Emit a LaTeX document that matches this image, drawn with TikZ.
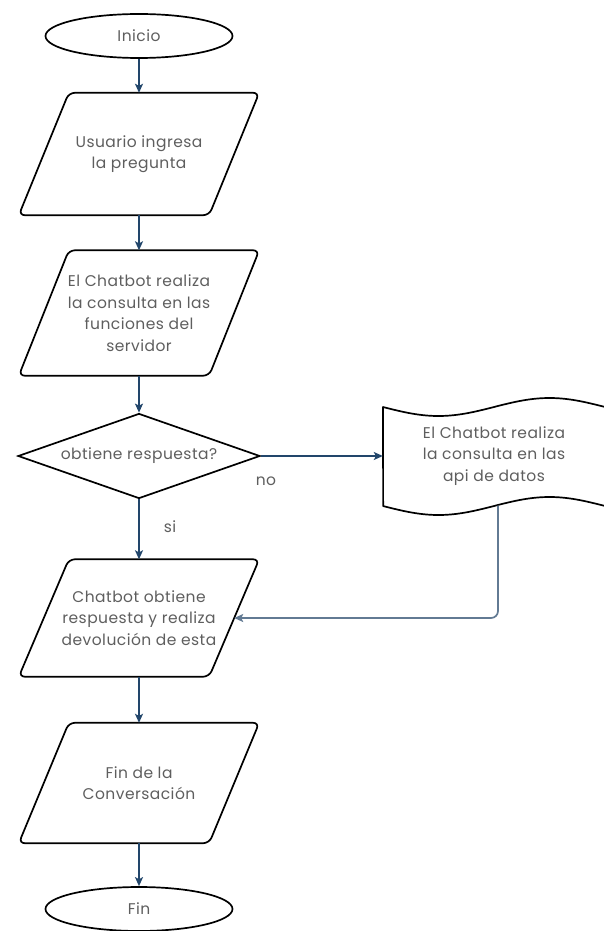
\documentclass[tikz,border=0pt]{standalone}
\usepackage{fontspec}
\setmainfont{Poppins}[LetterSpace=3]
\usetikzlibrary{shapes.geometric,arrows.meta,calc}
\definecolor{arrowblue}{HTML}{22466B}
\definecolor{loopblue}{HTML}{627A93}
\definecolor{labelgray}{HTML}{5E5E5E}
% outline of an input/output box around a named rectangle node
\newcommand{\iooutline}[1]{%
  \draw[outline,rounded corners=6pt] (#1.south west) -- ([xshift=50pt]#1.north west)
    -- (#1.north east) -- ([xshift=-50pt]#1.south east) -- cycle;}
\begin{document}
\begin{tikzpicture}[x=1pt,y=-1pt,
  outline/.style={draw=black,line width=1.7pt},
  txt/.style={text=labelgray,font=\fontsize{15.5}{21.5}\selectfont,align=center,inner sep=0pt},
  terminal/.style={txt,ellipse,outline,minimum width=187pt,minimum height=44pt},
  iobox/.style={txt,rectangle,minimum width=240pt},
  decision/.style={txt,diamond,outline,aspect=2.85,minimum width=242pt,minimum height=85pt},
  flow/.style={draw=arrowblue,line width=1.4pt,-{Stealth[length=9pt,width=8pt,inset=2pt]}},
  back/.style={flow,draw=loopblue,line width=1.7pt,rounded corners=7pt}
]
\useasboundingbox (0,0) rectangle (604,931);

% nodes
\node[terminal] (ini) at (139,36) {Inicio};
\node[iobox,minimum height=122pt] (p1) at (139,154) {Usuario ingresa\\la pregunta};
\node[iobox,minimum height=125pt] (p2) at (139,313) {El Chatbot realiza\\la consulta en las\\funciones del\\servidor};
\node[decision] (dec) at (139,456) {obtiene respuesta?};
\node[txt,rectangle,minimum width=222pt,minimum height=99pt] (doc) at (494,456)
  {El Chatbot realiza\\la consulta en las\\api de datos};
\node[iobox,minimum height=117pt] (p3) at (139,618) {Chatbot obtiene\\respuesta y realiza\\devolución de esta};
\node[iobox,minimum height=120pt] (p4) at (139,783) {Fin de la\\Conversación};
\node[terminal] (fin) at (139,909) {Fin};

% shape outlines
\iooutline{p1}
\iooutline{p2}
\iooutline{p3}
\iooutline{p4}
\draw[outline,line join=round]
  plot[domain=0:1,samples=80,smooth] ({383+222*\x},{407+9*sin(360*\x)})
  -- (605,506)
  -- plot[domain=1:0,samples=80,smooth] ({383+222*\x},{506+9*sin(360*\x)})
  -- cycle;

% connectors
\coordinate (p3in) at ($(p3.north east)!0.5!([xshift=-50pt]p3.south east)$);
\draw[flow] (ini) -- (p1);
\draw[flow] (p1) -- (p2);
\draw[flow] (p2) -- (dec);
\draw[flow] (dec) -- (doc);
\draw[flow] (dec) -- (p3);
\draw[flow] (p3) -- (p4);
\draw[flow] (p4) -- (fin);
\draw[back] ([xshift=4pt]doc.south) |- (p3in);

% branch labels
\node[txt] (lno) at (266,481) {no};
\node[txt] (lsi) at (170,527) {si};
\end{tikzpicture}
\end{document}
